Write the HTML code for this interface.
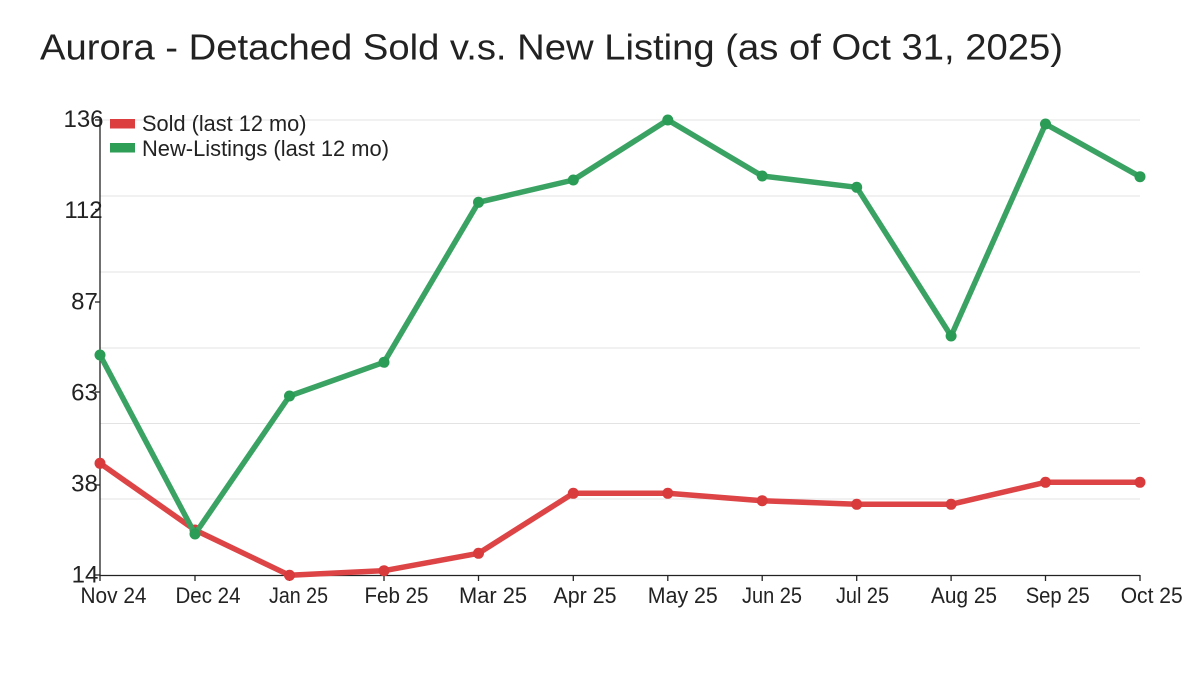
<!DOCTYPE html>
<html>
<head>
<meta charset="utf-8">
<style>
  html,body{margin:0;padding:0;background:#fff;}
  svg{display:block;}
  text{font-family:"Liberation Sans",Arial,sans-serif;fill:#222;}
</style>
</head>
<body>
<svg width="1200" height="675" viewBox="0 0 1200 675" xmlns="http://www.w3.org/2000/svg">
  <rect width="1200" height="675" fill="#fff"/>
  <!-- Title -->
  <text x="40" y="59.5" font-size="36.5" textLength="1023" lengthAdjust="spacingAndGlyphs">Aurora - Detached Sold v.s. New Listing (as of Oct 31, 2025)</text>

  <!-- gridlines -->
  <g stroke="#e3e3e3" stroke-width="1">
    <line x1="100" y1="120" x2="1140" y2="120"/>
    <line x1="100" y1="196" x2="1140" y2="196"/>
    <line x1="100" y1="272" x2="1140" y2="272"/>
    <line x1="100" y1="348" x2="1140" y2="348"/>
    <line x1="100" y1="423.5" x2="1140" y2="423.5"/>
    <line x1="100" y1="499" x2="1140" y2="499"/>
  </g>

  <!-- axes -->
  <g stroke="#222" stroke-width="1.3">
    <line x1="100" y1="117" x2="100" y2="575.5"/>
    <line x1="100" y1="575.5" x2="1140" y2="575.5"/>
    <line x1="95" y1="120" x2="100" y2="120"/>
    <line x1="95" y1="209.5" x2="100" y2="209.5"/>
    <line x1="95" y1="302" x2="100" y2="302"/>
    <line x1="95" y1="392" x2="100" y2="392"/>
    <line x1="95" y1="485" x2="100" y2="485"/>
    <line x1="95" y1="575" x2="100" y2="575"/>
    <line x1="100" y1="575" x2="100" y2="581"/>
    <line x1="195" y1="575" x2="195" y2="581"/>
    <line x1="289.5" y1="575" x2="289.5" y2="581"/>
    <line x1="384" y1="575" x2="384" y2="581"/>
    <line x1="478.5" y1="575" x2="478.5" y2="581"/>
    <line x1="573.3" y1="575" x2="573.3" y2="581"/>
    <line x1="667.8" y1="575" x2="667.8" y2="581"/>
    <line x1="762.2" y1="575" x2="762.2" y2="581"/>
    <line x1="856.7" y1="575" x2="856.7" y2="581"/>
    <line x1="951.1" y1="575" x2="951.1" y2="581"/>
    <line x1="1045.5" y1="575" x2="1045.5" y2="581"/>
    <line x1="1140" y1="575" x2="1140" y2="581"/>
  </g>

  <!-- y labels -->
  <g font-size="24" text-anchor="middle">
    <text x="83.5" y="127">136</text>
    <text x="83.5" y="218">112</text>
    <text x="84.5" y="309.5">87</text>
    <text x="84.5" y="400.5">63</text>
    <text x="84.5" y="491.5">38</text>
    <text x="85" y="582.5">14</text>
  </g>

  <!-- x labels -->
  <g font-size="22">
    <text x="80.5" y="603" textLength="66" lengthAdjust="spacingAndGlyphs">Nov 24</text>
    <text x="175.5" y="603" textLength="65" lengthAdjust="spacingAndGlyphs">Dec 24</text>
    <text x="269" y="603" textLength="59" lengthAdjust="spacingAndGlyphs">Jan 25</text>
    <text x="364.5" y="603" textLength="64" lengthAdjust="spacingAndGlyphs">Feb 25</text>
    <text x="459" y="603" textLength="68" lengthAdjust="spacingAndGlyphs">Mar 25</text>
    <text x="553.5" y="603" textLength="63" lengthAdjust="spacingAndGlyphs">Apr 25</text>
    <text x="647.8" y="603" textLength="70" lengthAdjust="spacingAndGlyphs">May 25</text>
    <text x="742" y="603" textLength="60" lengthAdjust="spacingAndGlyphs">Jun 25</text>
    <text x="836" y="603" textLength="53" lengthAdjust="spacingAndGlyphs">Jul 25</text>
    <text x="931" y="603" textLength="66" lengthAdjust="spacingAndGlyphs">Aug 25</text>
    <text x="1025.7" y="603" textLength="64" lengthAdjust="spacingAndGlyphs">Sep 25</text>
    <text x="1120.7" y="603" textLength="62" lengthAdjust="spacingAndGlyphs">Oct 25</text>
  </g>

  <!-- Sold series -->
  <polyline fill="none" stroke="#dd4446" stroke-width="5.5" stroke-linejoin="round" stroke-linecap="round"
    points="100,463.3 195,530 289.5,575.3 384,570.7 478.5,553.3 573.3,493.3 667.8,493.3 762.2,500.7 856.7,504.3 951.1,504.3 1045.5,482.3 1140,482.3"/>
  <g fill="#d93a3b">
    <circle cx="100" cy="463.3" r="5.5"/>
    <circle cx="195" cy="530" r="5.5"/>
    <circle cx="289.5" cy="575.3" r="5.5"/>
    <circle cx="384" cy="570.7" r="5.5"/>
    <circle cx="478.5" cy="553.3" r="5.5"/>
    <circle cx="573.3" cy="493.3" r="5.5"/>
    <circle cx="667.8" cy="493.3" r="5.5"/>
    <circle cx="762.2" cy="500.7" r="5.5"/>
    <circle cx="856.7" cy="504.3" r="5.5"/>
    <circle cx="951.1" cy="504.3" r="5.5"/>
    <circle cx="1045.5" cy="482.3" r="5.5"/>
    <circle cx="1140" cy="482.3" r="5.5"/>
  </g>

  <!-- New listings series -->
  <polyline fill="none" stroke="#3aa363" stroke-width="5.5" stroke-linejoin="round" stroke-linecap="round"
    points="100,355 195,534 289.5,396 384,362.3 478.5,202.3 573.3,180 667.8,120 762.2,176 856.7,187.3 951.1,336 1045.5,124 1140,176.7"/>
  <g fill="#2a9c55">
    <circle cx="100" cy="355" r="5.5"/>
    <circle cx="195" cy="534" r="5.5"/>
    <circle cx="289.5" cy="396" r="5.5"/>
    <circle cx="384" cy="362.3" r="5.5"/>
    <circle cx="478.5" cy="202.3" r="5.5"/>
    <circle cx="573.3" cy="180" r="5.5"/>
    <circle cx="667.8" cy="120" r="5.5"/>
    <circle cx="762.2" cy="176" r="5.5"/>
    <circle cx="856.7" cy="187.3" r="5.5"/>
    <circle cx="951.1" cy="336" r="5.5"/>
    <circle cx="1045.5" cy="124" r="5.5"/>
    <circle cx="1140" cy="176.7" r="5.5"/>
  </g>

  <!-- Legend -->
  <rect x="110" y="119" width="25" height="9.5" fill="#dc3e40"/>
  <rect x="110" y="143" width="25" height="9.5" fill="#2e9e57"/>
  <text x="142" y="131" font-size="22" textLength="164.5" lengthAdjust="spacingAndGlyphs">Sold (last 12 mo)</text>
  <text x="142" y="156" font-size="22" textLength="247" lengthAdjust="spacingAndGlyphs">New-Listings (last 12 mo)</text>
</svg>
</body>
</html>
